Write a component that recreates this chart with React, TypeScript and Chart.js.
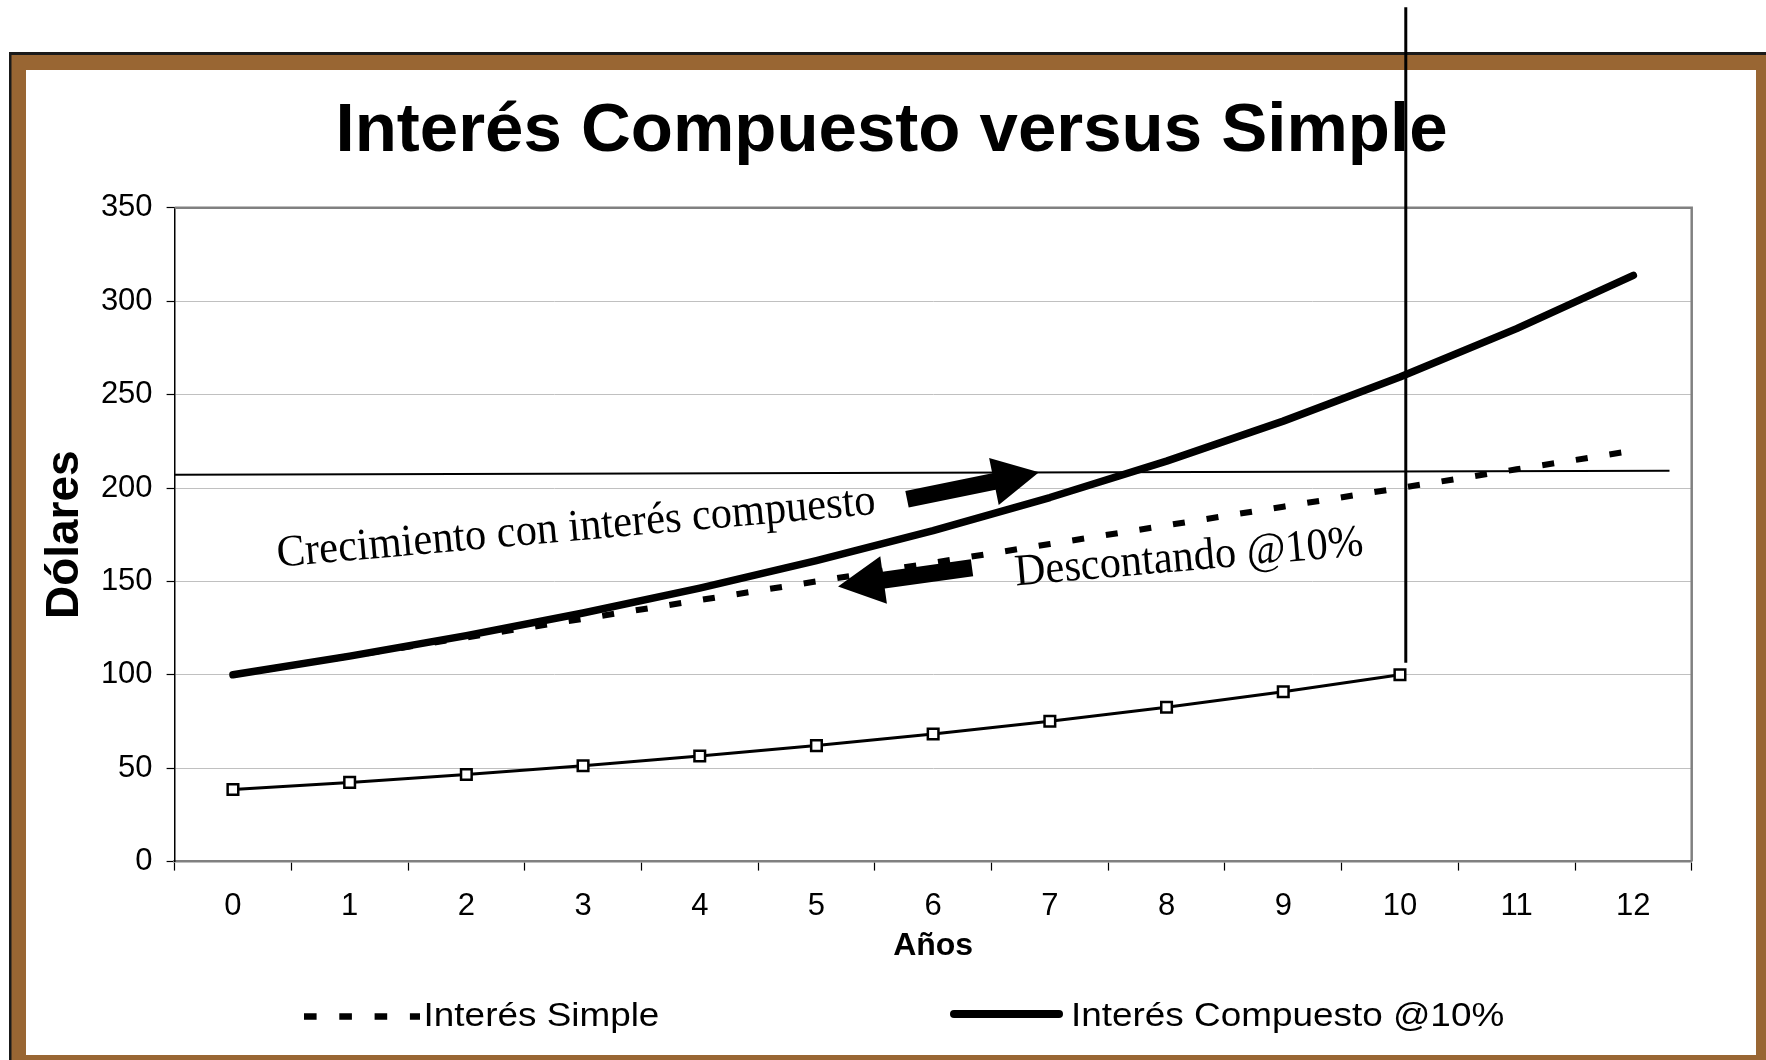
import { useEffect, useRef } from 'react';
import { Chart, registerables } from 'chart.js';

Chart.register(...registerables);

// ---------- data ----------
const years = ['0', '1', '2', '3', '4', '5', '6', '7', '8', '9', '10', '11', '12'];
const simpleInterest = [100, 110, 120, 130, 140, 150, 160, 170, 180, 190, 200, 210, 220];
const compoundInterest = [100, 110, 121, 133.1, 146.4, 161.1, 177.2, 194.9, 214.4, 235.8, 259.4, 285.3, 313.8];
const discountedValue = [38.6, 42.4, 46.6, 51.3, 56.5, 62.1, 68.3, 75.1, 82.6, 90.9, 100, null, null];
const seriesNames = ['Interés Simple', 'Interés Compuesto @10%'];
const chartTitle = 'Interés Compuesto versus Simple';
const yAxisTitle = 'Dólares';
const xAxisTitle = 'Años';
const yMin = 0;
const yMax = 350;
const yStep = 50;

// ---------- annotations (data units: x = year index, y = dollars) ----------
const referenceLineX = [-0.5, 12.31];
const referenceLineY = [207.1, 209.3];
const verticalLineX = [10.05, 10.05];
const verticalLineY = [106.4, 457.4];
const growthArrowX = [5.776, 6.907];
const growthArrowY = [194.0, 208.4];
const discountArrowX = [6.333, 5.185];
const discountArrowY = [157.3, 147.3];
const growthLabel = 'Crecimiento con interés compuesto';
const growthLabelX = 2.95;
const growthLabelY = 172.0;
const discountLabel = 'Descontando @10%';
const discountLabelX = 8.202;
const discountLabelY = 156.0;

const SANS = '"Liberation Sans", Arial, Helvetica, sans-serif';
const SERIF = '"Liberation Serif", "Times New Roman", serif';
const BROWN = '#996633';

function drawArrow(ctx: CanvasRenderingContext2D, tx: number, ty: number, px: number, py: number) {
  const dx = px - tx;
  const dy = py - ty;
  const len = Math.hypot(dx, dy);
  const ux = dx / len;
  const uy = dy / len;
  const nx = -uy;
  const ny = ux;
  const sw = 8.5;
  const hw = 24;
  const hl = 46;
  const bx = px - ux * hl;
  const by = py - uy * hl;
  ctx.beginPath();
  ctx.moveTo(tx + nx * sw, ty + ny * sw);
  ctx.lineTo(bx + nx * sw, by + ny * sw);
  ctx.lineTo(bx + nx * hw, by + ny * hw);
  ctx.lineTo(px, py);
  ctx.lineTo(bx - nx * hw, by - ny * hw);
  ctx.lineTo(bx - nx * sw, by - ny * sw);
  ctx.lineTo(tx - nx * sw, ty - ny * sw);
  ctx.closePath();
  ctx.fillStyle = '#000';
  ctx.fill();
}

const decorPlugin = {
  id: 'decor',
  beforeDraw(chart: any) {
    const { ctx, width, height } = chart;
    ctx.save();
    ctx.fillStyle = '#fff';
    ctx.fillRect(0, 0, width, height);
    // picture frame
    ctx.fillStyle = '#1a1a1a';
    ctx.fillRect(9, 52, width - 9, height - 52);
    ctx.fillStyle = BROWN;
    ctx.fillRect(11.5, 55, width - 11.5, height - 55);
    ctx.fillStyle = '#fff';
    ctx.fillRect(26, 70, 1756 - 26, 1055 - 70);
    ctx.restore();
  },
  beforeDatasetsDraw(chart: any) {
    const { ctx, chartArea } = chart;
    ctx.save();
    ctx.strokeStyle = '#808080';
    ctx.lineWidth = 2.5;
    ctx.beginPath();
    ctx.moveTo(chartArea.left, chartArea.top);
    ctx.lineTo(chartArea.right, chartArea.top);
    ctx.lineTo(chartArea.right, chartArea.bottom);
    ctx.stroke();
    ctx.restore();
  },
  afterDraw(chart: any) {
    const { ctx } = chart;
    const xs = chart.scales.x;
    const ys = chart.scales.y;
    const X = (v: number) => xs.getPixelForValue(v);
    const Y = (v: number) => ys.getPixelForValue(v);
    ctx.save();
    ctx.strokeStyle = '#000';
    ctx.lineCap = 'butt';
    // thin reference line
    ctx.lineWidth = 2;
    ctx.beginPath();
    ctx.moveTo(X(referenceLineX[0]), Y(referenceLineY[0]));
    ctx.lineTo(X(referenceLineX[1]), Y(referenceLineY[1]));
    ctx.stroke();
    // vertical line at year 10
    ctx.lineWidth = 3;
    ctx.beginPath();
    ctx.moveTo(X(verticalLineX[0]), Y(verticalLineY[0]));
    ctx.lineTo(X(verticalLineX[1]), Y(verticalLineY[1]));
    ctx.stroke();
    // arrows
    drawArrow(ctx, X(growthArrowX[0]), Y(growthArrowY[0]), X(growthArrowX[1]), Y(growthArrowY[1]));
    drawArrow(ctx, X(discountArrowX[0]), Y(discountArrowY[0]), X(discountArrowX[1]), Y(discountArrowY[1]));
    // rotated serif labels
    ctx.fillStyle = '#000';
    ctx.font = `42.5px ${SERIF}`;
    ctx.textAlign = 'center';
    ctx.textBaseline = 'alphabetic';
    ctx.save();
    ctx.translate(X(growthLabelX), Y(growthLabelY));
    ctx.rotate((-5.05 * Math.PI) / 180);
    ctx.scale(1, 1.06);
    ctx.fillText(growthLabel, 0, 0);
    ctx.restore();
    ctx.save();
    ctx.translate(X(discountLabelX), Y(discountLabelY));
    ctx.rotate((-5.0 * Math.PI) / 180);
    ctx.scale(1, 1.06);
    ctx.fillText(discountLabel, 0, 0);
    ctx.restore();

    // legend
    const legendY = 1015;
    const baseline = 1026;
    ctx.lineWidth = 6.5;
    ctx.setLineDash([12.6, 22.7]);
    ctx.lineCap = 'butt';
    ctx.beginPath();
    ctx.moveTo(304, legendY + 1.5);
    ctx.lineTo(420, legendY + 1.5);
    ctx.stroke();
    ctx.setLineDash([]);
    ctx.lineWidth = 8;
    ctx.lineCap = 'round';
    ctx.beginPath();
    ctx.moveTo(954, legendY - 1);
    ctx.lineTo(1059, legendY - 1);
    ctx.stroke();
    ctx.font = `34px ${SANS}`;
    ctx.textAlign = 'left';
    ctx.textBaseline = 'alphabetic';
    const items: [string, number][] = [
      [seriesNames[0], 423.6],
      [seriesNames[1], 1071],
    ];
    for (const [txt, x] of items) {
      ctx.save();
      ctx.translate(x, baseline);
      ctx.scale(1.085, 1);
      ctx.fillText(txt, 0, 0);
      ctx.restore();
    }
    ctx.restore();
  },
};

export default function App() {
  const canvasRef = useRef<HTMLCanvasElement | null>(null);

  useEffect(() => {
    const canvas = canvasRef.current;
    if (!canvas) return;
    const chart = new Chart(canvas, {
      type: 'line',
      data: {
        labels: years,
        datasets: [
          {
            label: seriesNames[1],
            data: compoundInterest,
            borderColor: '#000',
            borderWidth: 7.5,
            borderCapStyle: 'round',
            borderJoinStyle: 'round',
            pointRadius: 0,
            tension: 0,
            fill: false,
          },
          {
            label: seriesNames[0],
            data: simpleInterest,
            borderColor: '#000',
            borderWidth: 6,
            borderDash: [12, 22],
            pointRadius: 0,
            tension: 0,
            fill: false,
          },
          {
            label: 'Valor descontado',
            data: discountedValue,
            borderColor: '#000',
            borderWidth: 3,
            pointStyle: 'rect',
            pointRadius: 7.5,
            pointBorderWidth: 2.5,
            pointBorderColor: '#000',
            pointBackgroundColor: '#fff',
            tension: 0,
            fill: false,
          },
        ],
      },
      options: {
        responsive: false,
        animation: false,
        events: [],
        layout: { padding: { left: 91.3, right: 74.3, top: 0, bottom: 78.4 } },
        plugins: {
          legend: { display: false },
          tooltip: { enabled: false },
          title: {
            display: true,
            text: chartTitle,
            color: '#000',
            font: { family: SANS, size: 69, weight: 'bold', lineHeight: 1.2 },
            padding: { top: 90.6, bottom: 34.4 },
          },
        },
        scales: {
          x: {
            type: 'category',
            offset: true,
            afterFit: (s: any) => {
              s.height = 120;
            },
            grid: {
              offset: true,
              drawOnChartArea: false,
              drawTicks: true,
              tickLength: 9,
              tickColor: '#000',
              tickWidth: 1.2,
            },
            border: { color: '#808080', width: 2.5 },
            ticks: {
              color: '#000',
              font: { family: SANS, size: 31, lineHeight: 1.2 },
              padding: 17,
              maxRotation: 0,
              autoSkip: false,
            },
            title: {
              display: true,
              text: xAxisTitle,
              color: '#000',
              font: { family: SANS, size: 32, weight: 'bold', lineHeight: 1.2 },
              padding: { top: 0, bottom: 16 },
            },
          },
          y: {
            min: yMin,
            max: yMax,
            afterFit: (s: any) => {
              s.width = 83.3;
            },
            grid: {
              color: (c: any) => (c.tick && c.tick.value === 0 ? 'rgba(0,0,0,0)' : '#c0c0c0'),
              lineWidth: 1,
              tickLength: 8,
              tickColor: '#000',
              tickWidth: 1.2,
            },
            border: { color: '#000', width: 1.5 },
            ticks: {
              stepSize: yStep,
              color: '#000',
              font: { family: SANS, size: 31, lineHeight: 1.2 },
              padding: 14,
            },
            title: {
              display: true,
              text: yAxisTitle,
              color: '#000',
              font: { family: SANS, size: 46, weight: 'bold', lineHeight: 1.2 },
              padding: { top: -53.9, bottom: 0 },
            },
          },
        },
      },
      plugins: [decorPlugin],
    } as any);
    return () => chart.destroy();
  }, []);

  return (
    <div style={{ position: 'fixed', left: 0, top: 0, width: 1766, height: 1060, background: '#fff' }}>
      <canvas ref={canvasRef} width={1766} height={1060} style={{ display: 'block' }} />
    </div>
  );
}
